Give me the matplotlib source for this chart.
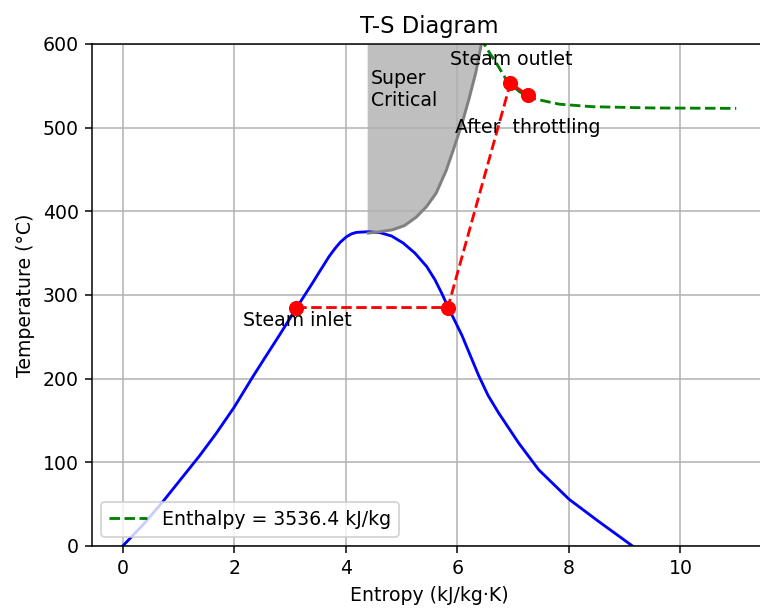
import matplotlib
matplotlib.use("Agg")
import matplotlib.pyplot as plt

# saturation dome (liquid branch up to the critical point, then vapour branch)
dome_s = [0.0, 0.36, 0.72, 1.08, 1.38, 1.67, 2.0, 2.33, 2.54, 2.81, 3.12, 3.40,
          3.53, 3.70, 3.80, 3.90, 4.01, 4.10, 4.19, 4.40, 4.61, 4.82, 5.03, 5.24,
          5.45, 5.60, 5.72, 5.83, 6.08, 6.38, 6.55, 6.74, 7.10, 7.46, 8.0, 8.54, 9.14]
dome_T = [0, 25, 53, 83, 108, 134, 166, 202, 224, 252, 285, 314,
          328, 346, 355, 363, 369.5, 373, 374.8, 375.6, 374.5, 370.5, 362, 350,
          334, 318, 302, 286, 252, 204, 180, 159, 123, 91, 56, 29, 0]

# supercritical region boundary
crit_s = 4.4
super_s = [4.40, 4.60, 4.84, 5.05, 5.26, 5.45, 5.62, 5.80, 5.98, 6.10, 6.21, 6.33, 6.43]
super_T = [374, 375.5, 378, 383, 393, 406, 422, 449, 484, 509, 535, 566, 600]

# constant-enthalpy line
h_value = 3536.4
h_s = [6.42, 6.48, 6.59, 6.70, 6.88, 7.11, 7.34, 7.83, 8.42, 9.5, 11.0]
h_T = [608, 600, 588, 577, 557, 543, 535, 528, 525, 523.5, 523]

# process: inlet -> saturated vapour -> outlet -> after throttling
proc_s = [3.11, 5.83, 6.95, 7.26]
proc_T = [285, 285, 553, 539]

dpi = 136
fig = plt.figure(figsize=(760 / dpi, 613 / dpi), dpi=dpi)
ax = fig.add_axes([0.1211, 0.1093, 0.888, 0.819])

ax.plot(dome_s, dome_T, color="b")
ax.fill_betweenx(super_T, crit_s, super_s, color="#bfbfbf")
ax.plot(super_s, super_T, color="gray")
ax.plot(h_s, h_T, "g--", label=f"Enthalpy = {h_value} kJ/kg")
ax.plot(proc_s, proc_T, "r--")
ax.plot(proc_s, proc_T, "ro", markersize=7, zorder=5)

ax.text(2.16, 263, "Steam inlet")
ax.text(5.86, 575, "Steam outlet")
ax.text(5.96, 494, "After  throttling")
ax.text(4.45, 546, "Super\nCritical", va="center")

ax.set_xlim(-0.55, 11.55)
ax.set_ylim(0, 600)
ax.set_xticks([0, 2, 4, 6, 8, 10])
ax.set_title("T-S Diagram")
ax.set_xlabel("Entropy (kJ/kg·K)")
ax.set_ylabel("Temperature (°C)")
ax.grid(True)
ax.legend(loc="lower left")

fig.savefig("out.png", dpi=dpi)
